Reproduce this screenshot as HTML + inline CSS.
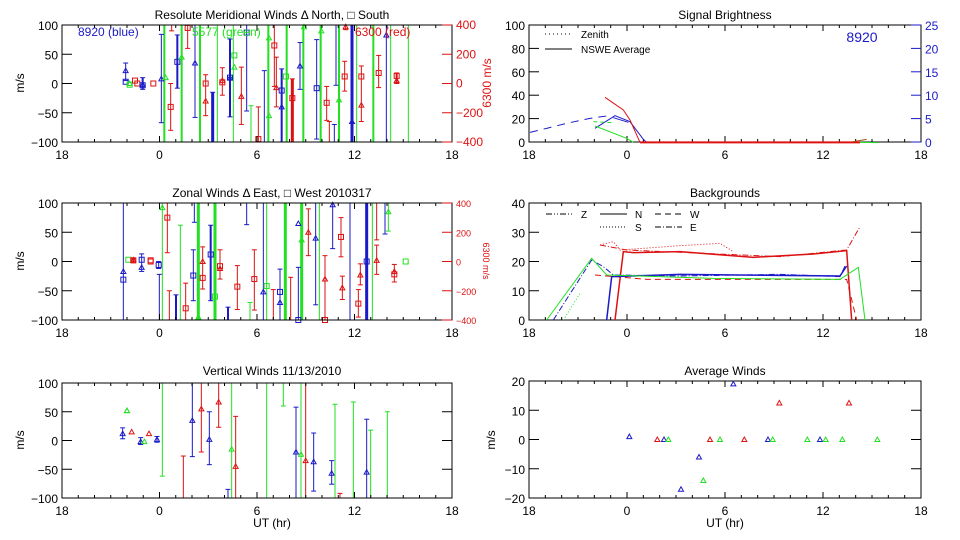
<!DOCTYPE html>
<html><head><meta charset="utf-8"><style>
body{margin:0;background:#fff;}
svg{display:block;font-family:"Liberation Sans",sans-serif;}
</style></head><body>
<svg id="s" width="960" height="540" xmlns="http://www.w3.org/2000/svg"></svg>
<script>
const S=document.getElementById('s');let out='';
const C={b:'#1a1ac8',g:'#22e022',r:'#dd1111',k:'#000'};
function ln(x1,y1,x2,y2,c,w,d){out+=`<line x1="${x1}" y1="${y1}" x2="${x2}" y2="${y2}" stroke="${c}" stroke-width="${w||1}"${d?` stroke-dasharray="${d}"`:''}/>`;}
function tx(x,y,t,o){o=o||{};out+=`<text x="${x}" y="${y}" font-size="${o.fs||12}" fill="${o.c||'#000'}" text-anchor="${o.a||'middle'}"${o.rot?` transform="rotate(${o.rot} ${x} ${y})"`:''}>${t}</text>`;}
function pl(pts,c,d,w){out+=`<polyline points="${pts.map(p=>p.join(',')).join(' ')}" fill="none" stroke="${c}" stroke-width="${w||1}"${d?` stroke-dasharray="${d}"`:''}/>`;}
function tri(x,y,c){out+=`<polygon points="${x-2.5},${y+2} ${x+2.5},${y+2} ${x},${y-2.5}" fill="none" stroke="${c}"/>`;}
function sq(x,y,c){out+=`<rect x="${x-2.5}" y="${y-2.5}" width="5" height="5" fill="none" stroke="${c}"/>`;}
function frame(L,R,T,B,ylabs,xlab){
  out+=`<rect x="${L}" y="${T}" width="${R-L}" height="${B-T}" fill="none" stroke="#000"/>`;
  const xs=['18','0','6','12','18'];
  for(let i=0;i<=24;i++){const x=L+(R-L)*i/24;const l=i%6==0?6:3;ln(x,B,x,B-l,'#000');ln(x,T,x,T+l,'#000');}
  xs.forEach((s,i)=>tx(L+(R-L)*i/4,B+17,s));
  ylabs.forEach((s,i)=>{const y=T+(B-T)*i/(ylabs.length-1);ln(L,y,L+10,y,'#000');if(xlab!=='noR')ln(R,y,R-10,y,'#000');tx(L-4,y+5,s,{a:'end'});});
}
function rax(R,T,B,fs){['400','200','0','−200','−400'].forEach((s,i)=>{const y=T+(B-T)*i/4;ln(R,y,R-10,y,C.r);tx(R+4,y+4,s,{a:'start',c:C.r,fs:fs||12});});}
const L=62,R=452;
const rows=[[25,142],[203,320],[383,498]];
function ym(row,v){const [T,B]=rows[row];v=Math.max(-100,Math.min(100,v));return T+(100-v)/200*(B-T);}
function eb(row,zx,lo,hi,c,w,mk){const x=zx/3;const c2=C[c];const y1=ym(row,hi),y2=ym(row,lo);ln(x,y1,x,y2,c2,w||1);
 if(hi<100)ln(x-2.5,y1,x+2.5,y1,c2);if(lo>-100)ln(x-2.5,y2,x+2.5,y2,c2);
 (mk||[]).forEach(m=>{if(m[0]=='t')tri(x,ym(row,m[1]),c2);else sq(x,ym(row,m[1]),c2);});}
function mk(row,zx,c,list){(list).forEach(m=>{const x=zx/3;if(m[0]=='t')tri(x,ym(row,m[1]),C[c]);else sq(x,ym(row,m[1]),C[c]);});}
// Row 1
[[493,2],[545,2],[600,2],[652,1],[700,1],[805,2],[860,2],[910,2],[962,2],[1017,2],[1070,1],[1120,2],[1172,1],[1225,1]].forEach(a=>eb(0,a[0],-100,100,'g',a[1]));
eb(0,753,-100,-38,'g',1);
eb(0,377,5,35,'b',1,[['s',3],['t',22]]);mk(0,389,'g',[['s',-2],['t',0]]);mk(0,405,'r',[['s',5]]);mk(0,412,'r',[['s',0]]);
eb(0,428,-10,10,'b',2,[['s',-3],['t',-2]]);mk(0,460,'r',[['s',0]]);
eb(0,484,-67,84,'b',1,[['t',8]]);mk(0,497,'g',[['t',10]]);eb(0,512,-80,0,'r',1,[['s',-40]]);
eb(0,532,-8,83,'b',2,[['s',37]]);mk(0,545,'g',[['t',45]]);eb(0,563,60,100,'r',1,[['s',95]]);eb(0,515,90,100,'r',1);
eb(0,585,-58,100,'b',1,[['t',35]]);eb(0,617,-55,15,'r',1,[['s',0],['t',-30]]);eb(0,638,-100,-15,'b',3);
eb(0,667,-20,27,'r',1,[['s',2],['t',5]]);eb(0,690,-57,76,'b',2,[['s',10],['t',10]]);mk(0,703,'g',[['s',48],['t',28]]);
eb(0,724,-70,28,'r',1,[['t',-22]]);eb(0,740,-47,100,'b',1,[['s',87]]);eb(0,775,-100,-40,'r',1,[['s',-95]]);
eb(0,793,-100,22,'b',1);mk(0,807,'g',[['t',78],['t',-55]]);eb(0,823,-5,100,'r',1,[['s',65]]);eb(0,829,-40,45,'r',1,[['t',-7]]);
eb(0,845,-100,25,'b',2,[['s',-12],['t',-40]]);mk(0,858,'g',[['s',12]]);eb(0,877,-100,8,'r',3,[['s',-25]]);
eb(0,900,-10,70,'b',1,[['t',30]]);mk(0,912,'g',[['t',97]]);eb(0,950,-95,75,'b',1,[['s',-8]]);mk(0,964,'g',[['t',90]]);
eb(0,980,-63,-5,'r',1,[['s',-33]]);eb(0,988,-100,-65,'r',1);eb(0,1003,-100,-70,'b',1);eb(0,1008,-3,100,'b',1);mk(0,1017,'g',[['t',-28]]);
eb(0,1034,-13,38,'r',1,[['s',12]]);eb(0,1037,92,100,'r',1,[['t',97]]);eb(0,1056,-100,100,'b',3,[['t',-65]]);
eb(0,1084,-65,30,'r',1,[['s',12],['t',-37]]);eb(0,1136,-7,48,'r',1,[['s',18]]);eb(0,1159,-100,100,'b',1,[['t',83]]);eb(0,1190,0,18,'r',2,[['s',13],['t',5]]);
// Row 2
[[487,1],[595,3],[645,3],[856,3],[905,3],[958,1],[1117,1],[800,1]].forEach(a=>eb(1,a[0],-100,100,'g',a[1]));
eb(1,541,-100,62,'g',1);eb(1,750,-100,-70,'g',1);
eb(1,370,-100,100,'b',1,[['s',-31],['t',-17]]);mk(1,385,'g',[['s',3]]);eb(1,400,-2,5,'r',2,[['s',2],['t',3]]);
eb(1,425,-17,13,'b',1,[['s',3],['t',-10]]);mk(1,452,'r',[['s',2],['s',0]]);eb(1,476,-12,0,'b',1,[['s',-6]]);eb(1,478,-100,-22,'b',1);
mk(1,487,'g',[['t',92]]);eb(1,502,15,100,'r',1,[['s',75]]);eb(1,508,-100,-50,'r',1);eb(1,528,-100,-57,'b',2);
eb(1,557,-100,-37,'r',1,[['s',-80]]);eb(1,580,-67,20,'b',1,[['s',-24]]);eb(1,583,67,100,'b',1);mk(1,595,'g',[['t',-95]]);
eb(1,608,-47,25,'r',1,[['t',0],['s',-28]]);eb(1,632,-67,62,'b',2,[['s',12]]);mk(1,645,'g',[['s',-60]]);
eb(1,660,-30,20,'r',1,[['s',-8],['t',-12]]);eb(1,684,-100,-78,'b',2);eb(1,712,-82,-7,'r',1,[['s',-43]]);eb(1,740,63,100,'b',1);
eb(1,763,-83,20,'r',1,[['s',-30]]);eb(1,790,-100,100,'b',1,[['t',-52]]);mk(1,800,'g',[['s',-42]]);eb(1,820,-100,-48,'r',1);
eb(1,840,-100,-13,'b',1,[['s',-52],['t',-70]]);eb(1,872,-100,-27,'r',1);eb(1,895,-100,-10,'b',1,[['t',65],['s',-100]]);mk(1,905,'g',[['t',37]]);
eb(1,925,10,90,'r',1,[['t',50]]);eb(1,947,-74,100,'b',1,[['t',40]]);eb(1,975,-100,10,'r',1,[['t',-30],['s',-100]]);
eb(1,998,22,100,'b',1,[['t',97]]);eb(1,1023,8,75,'r',1,[['s',42]]);eb(1,1027,-65,-25,'r',1,[['t',-45]]);eb(1,1050,-100,100,'b',1);
eb(1,1075,-95,-48,'r',1,[['s',-72]]);eb(1,1081,-40,-4,'r',1,[['t',-23]]);eb(1,1100,-100,100,'b',3,[['s',0]]);
eb(1,1130,-22,28,'r',1,[['t',2]]);eb(1,1130,37,100,'r',1);eb(1,1155,47,100,'b',1);eb(1,1165,52,100,'g',1,[['t',85]]);
eb(1,1183,-35,-5,'r',1,[['s',-22],['t',-17]]);mk(1,1217,'g',[['s',0]]);
// Row 3
eb(2,368,3,22,'b',1,[['t',12]]);mk(2,381,'g',[['t',52],['t',52]]);mk(2,395,'r',[['t',15]]);eb(2,422,-7,5,'b',1,[['t',-2]]);
mk(2,433,'g',[['t',-2]]);mk(2,447,'r',[['t',12]]);eb(2,471,-3,7,'b',1,[['t',2]]);eb(2,487,-62,100,'g',1);eb(2,550,-100,-27,'r',1);
eb(2,577,-28,100,'b',1,[['t',35]]);eb(2,604,-20,100,'r',1,[['t',55]]);eb(2,628,-42,50,'b',1,[['t',2]]);eb(2,656,23,100,'r',1,[['t',67]]);
eb(2,684,-100,-85,'b',1);eb(2,695,-100,100,'g',1,[['t',-15]]);eb(2,707,-100,42,'r',1,[['t',-45]]);eb(2,800,-100,100,'g',1);eb(2,850,60,100,'g',1);
eb(2,888,-100,58,'b',1,[['t',-20]]);eb(2,903,-100,100,'g',1,[['t',-24]]);eb(2,917,-100,100,'r',1,[['t',-35]]);eb(2,941,-88,13,'b',1,[['t',-37]]);
eb(2,995,-76,-35,'b',1,[['t',-57]]);eb(2,1005,-100,63,'g',1);eb(2,1020,-100,-92,'r',1);eb(2,1060,-100,67,'g',1);
eb(2,1100,-100,37,'b',1,[['t',-55]]);eb(2,1112,-100,18,'g',1);eb(2,1162,-100,50,'g',1);
rows.forEach((r,i)=>frame(L,R,r[0],r[1],['100','50','0','−50','−100'],i<2?'noR':''));
rax(R,25,142);rax(R,203,320,9);
tx(272,19,'Resolute Meridional Winds Δ North, □ South');
tx(272,197,'Zonal Winds Δ East, □ West 2010317');
tx(272,375,'Vertical Winds 11/13/2010');
tx(272,527,'UT (hr)');
[83,261,440].forEach(y=>tx(24,y,'m/s',{rot:-90}));
tx(78,36,'8920 (blue)',{a:'start',c:C.b});tx(192,36,'5577 (green)',{a:'start',c:C.g});tx(355,36,'6300 (red)',{a:'start',c:C.r});
tx(491,83,'6300 m/s',{rot:-90,c:C.r});tx(483,261,'6300 m/s',{rot:90,c:C.r,fs:9});
// right panels
const RL=529,RR=921;
frame(RL,RR,25,142,['100','80','60','40','20','0'],'noR');
['25','20','15','10','5','0'].forEach((s,i)=>{const y=25+117*i/5;ln(RR,y,RR-10,y,C.b);tx(RR+4,y+5,s,{a:'start',c:C.b});});
frame(RL,RR,203,320,['40','30','20','10','0']);
frame(RL,RR,381,498,['20','10','0','−10','−20']);
tx(725,19,'Signal Brightness');tx(725,197,'Backgrounds');tx(725,375,'Average Winds');tx(725,527,'UT (hr)');tx(495,440,'m/s',{rot:-90});
tx(862,42,'8920',{c:C.b,fs:14});
ln(545,34,572,34,'#000',1,'1 3');tx(581,38,'Zenith',{a:'start',fs:10});ln(545,49,572,49,'#000');tx(581,53,'NSWE Average',{a:'start',fs:10});
const z=(p)=>p.map(a=>[480+a[0]/3,a[1]/3]);
const z2=(p)=>p.map(a=>[480+a[0]/3,180+a[1]/3]);
pl(z([[150,397],[200,385],[260,370],[330,355],[380,348]]),C.b,'8 6');
pl(z([[345,385],[405,347],[450,365],[490,418],[500,427]]),C.b);pl(z([[400,353],[445,367]]),C.b);
pl(z([[375,292],[430,330],[450,360],[480,427]]),C.r);pl(z([[345,378],[440,415],[460,427]]),C.g);pl(z([[340,365],[400,368]]),C.g,'4 3');
pl(z([[480,427],[1140,427]]),C.r,null,2);pl(z([[1120,425],[1160,418]]),'#a05010');pl(z([[1140,427],[1195,428]]),C.g);
// Backgrounds
pl(z2([[405,420],[430,215],[460,218],[600,215],[820,232],[1000,222],[1100,212],[1115,420]]),C.r,null,1.5);
pl(z2([[360,195],[400,185],[420,210],[600,197],[720,190],[760,215]]),C.r,'1 2');
pl(z2([[360,195],[440,210],[900,230],[1100,210],[1140,140]]),C.r,'6 2 1 2');
pl(z2([[345,285],[500,298],[800,298],[1100,298],[1130,420]]),C.r,'6 4');
pl(z2([[220,420],[335,240],[370,260],[400,285],[600,288],[900,283],[1080,290],[1095,258]]),C.b,'6 2 1 2');
pl(z2([[380,420],[395,290],[600,283],[1080,288],[1100,258]]),C.b,null,1.5);
pl(z2([[200,420],[335,235],[380,285],[700,295],[1080,298],[1135,262],[1155,420]]),C.g);
pl(z2([[250,420],[300,340]]),C.g,'1 2');
// Average winds
const aw=(zx,v,c)=>tri(480+zx/3,381+(20-v)/40*117,C[c]);
[[448,1],[552,0],[603,-17],[657,-6],[760,19],[864,0],[1020,0]].forEach(a=>aw(a[0],a[1],'b'));
[[532,0],[690,0],[793,0],[898,12.5],[1107,12.5]].forEach(a=>aw(a[0],a[1],'r'));
[[565,0],[670,-14],[720,0],[878,0],[982,0],[1037,0],[1087,0],[1192,0]].forEach(a=>aw(a[0],a[1],'g'));
const lg=(x,y,d,t)=>{ln(x,y,x+27,y,'#000',1,d);tx(x+35,y+4,t,{a:'start',fs:10});};
lg(546,214,'6 2 1 2 1 2','Z');lg(600,214,null,'N');lg(655,214,'6 4','W');lg(600,227,'1 2','S');lg(655,227,'6 2 1 2','E');
S.innerHTML=out;
</script>
</body></html>
